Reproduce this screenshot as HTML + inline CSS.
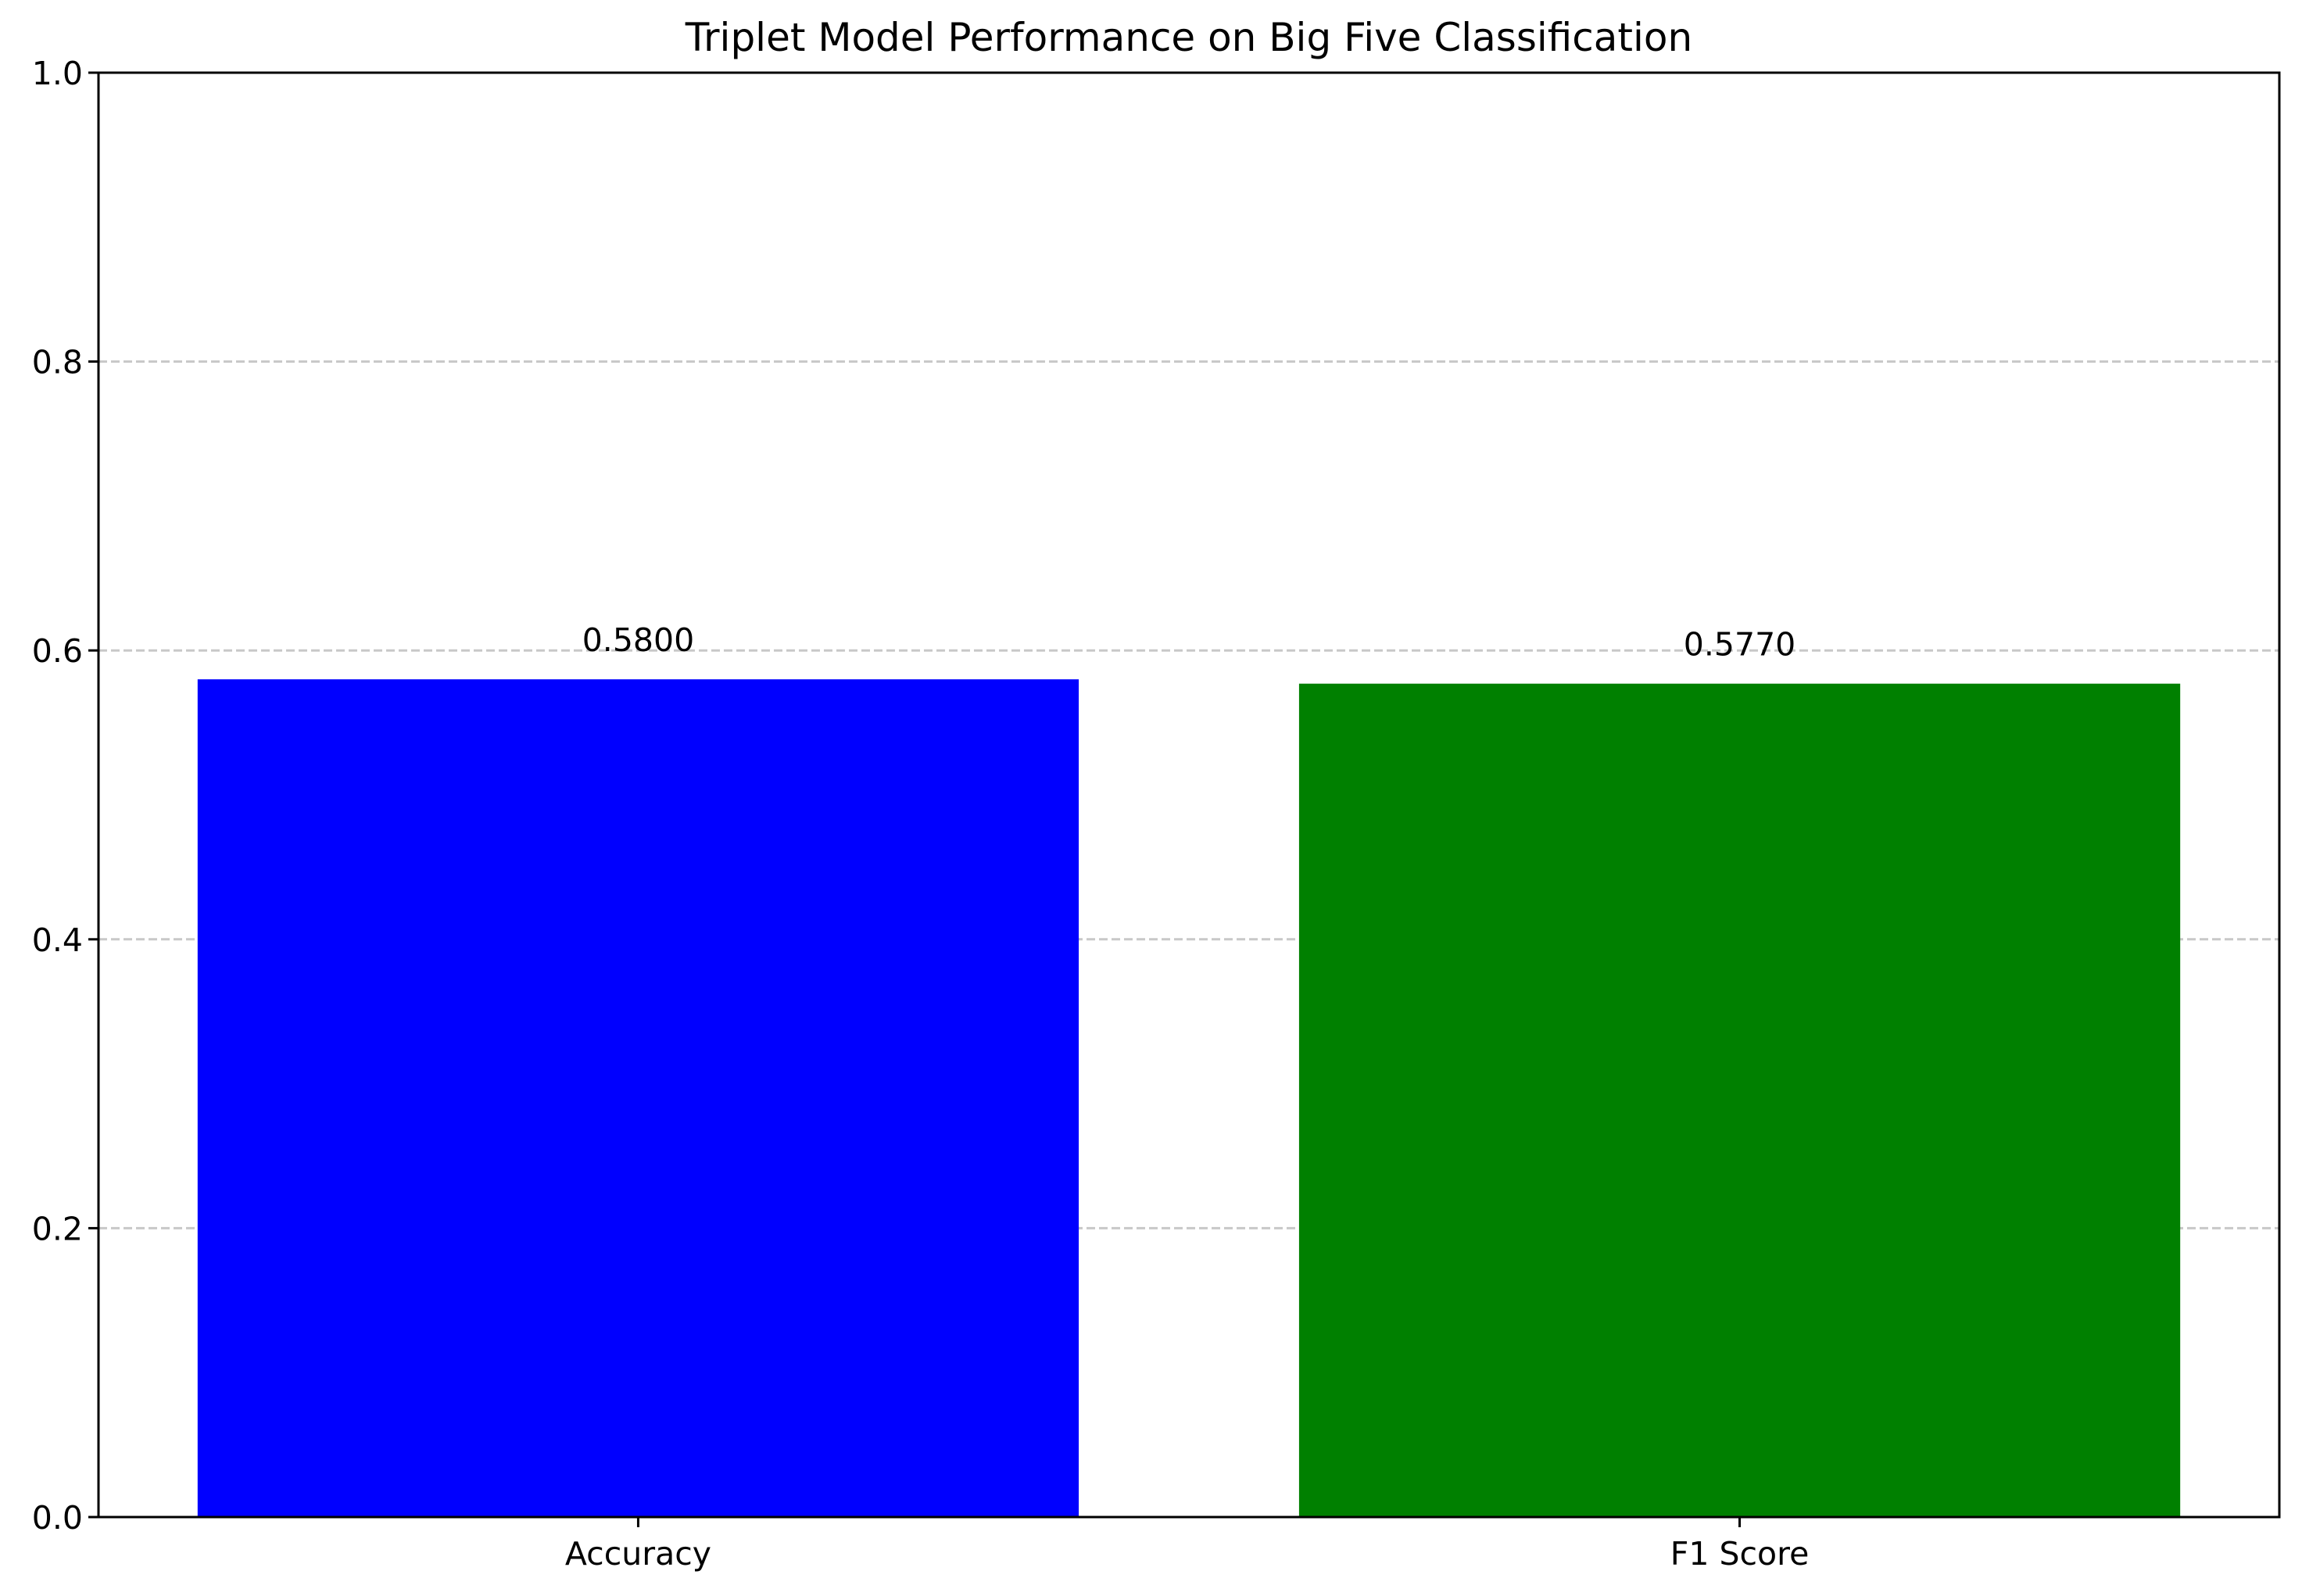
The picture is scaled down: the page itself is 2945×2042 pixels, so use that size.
<!DOCTYPE html>
<html><head><meta charset="utf-8"><style>
body{margin:0;background:#fff}
svg{display:block;font-family:"DejaVu Sans","Liberation Sans",sans-serif}
</style></head><body>
<svg id="chart" width="2945" height="2042" viewBox="0 0 2945 2042" xmlns="http://www.w3.org/2000/svg">
<rect width="2945" height="2042" fill="#fff"/>
<text x="1521" y="65" text-anchor="middle" font-size="50">Triplet Model Performance on Big Five Classification</text>
<g id="grid"></g><g id="bars"></g><g id="labels"></g><g id="ticks"></g>
<rect x="126" y="93" width="2790" height="1848" fill="none" stroke="#000" stroke-width="3"/>
</svg>
<script>
const categories = ["Accuracy", "F1 Score"];
const values = [0.58, 0.577];
const valueLabels = ["0.5800", "0.5770"];
const colors = ["#0000ff", "#008000"];
const yTicks = [0.0, 0.2, 0.4, 0.6, 0.8, 1.0];
const yTickLabels = ["0.0", "0.2", "0.4", "0.6", "0.8", "1.0"];

const L=126,R=2916,T=93,B=1941;
const xmin=-0.49,xmax=1.49;
function x(v){return L+(v-xmin)/(xmax-xmin)*(R-L);}
function y(v){return B-v*(B-T);}
const NS="http://www.w3.org/2000/svg";
function mk(tag,attrs,parent,text){const e=document.createElementNS(NS,tag);for(const k in attrs)e.setAttribute(k,attrs[k]);if(text!==undefined)e.textContent=text;parent.appendChild(e);return e;}
const grid=document.getElementById('grid'),bars=document.getElementById('bars'),labels=document.getElementById('labels'),ticks=document.getElementById('ticks');
yTicks.forEach((t,i)=>{
  if(t>0&&t<1){
    const g=mk('line',{x1:L,x2:R,y1:y(t),y2:y(t),stroke:'#c8c8c8','stroke-width':3,'stroke-dasharray':'11 5'},grid);
    
    
  }
  const tk=mk('line',{x1:L-13,x2:L,y1:y(t),y2:y(t),stroke:'#000','stroke-width':3},ticks);
  
  
  const tl=mk('text',{x:L-20,y:y(t)+15,'text-anchor':'end','font-size':41},ticks,yTickLabels[i]);
  
  
});
categories.forEach((c,i)=>{
  const b=mk('rect',{x:x(i-0.4),y:y(values[i]),width:x(i+0.4)-x(i-0.4),height:B-y(values[i]),fill:colors[i]},bars);
  
  
  const v=mk('text',{x:x(i),y:y(values[i]+0.02)+1,'text-anchor':'middle','font-size':41},labels,valueLabels[i]);
  
  
  const tk=mk('line',{x1:x(i),x2:x(i),y1:B,y2:B+13,stroke:'#000','stroke-width':3},ticks);
  
  
  const tl=mk('text',{x:x(i),y:B+61,'text-anchor':'middle','font-size':41},ticks,c);
  
  
});
</script>
</body></html>
